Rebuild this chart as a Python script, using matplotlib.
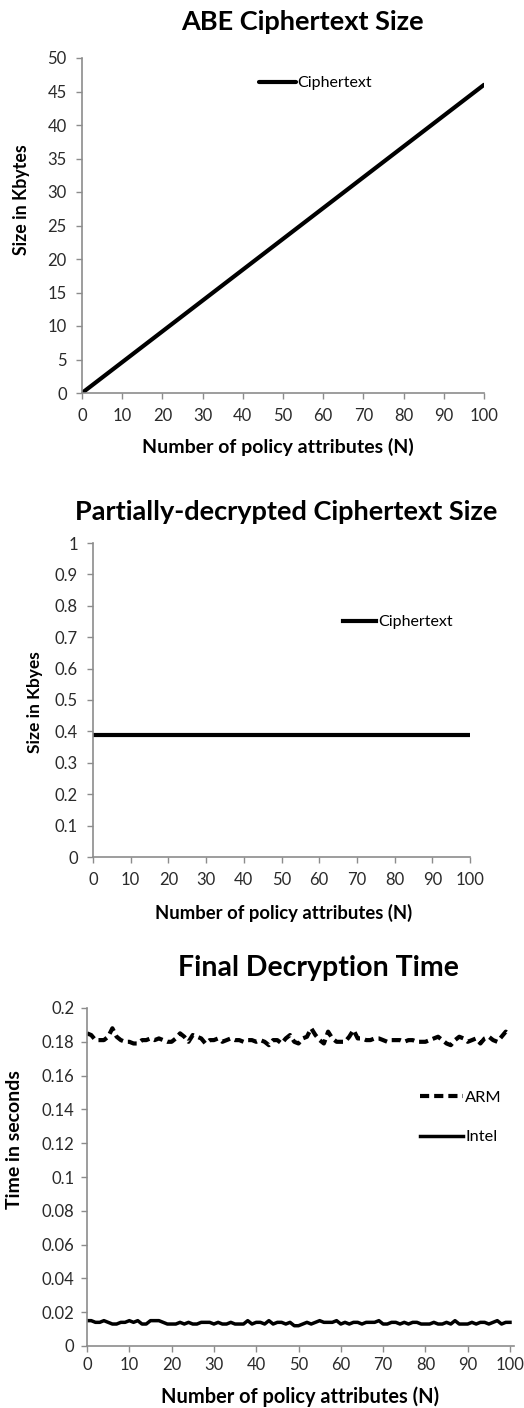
import numpy as np
import matplotlib
matplotlib.use("Agg")
import matplotlib.pyplot as plt

plt.rcParams['font.family'] = ['Lato', 'DejaVu Sans']

# chart 1: ABE ciphertext size
n1 = [0, 100]
size1 = [0, 46]

# chart 2: partially-decrypted ciphertext size
n2 = [0, 100]
size2 = [0.39, 0.39]

# chart 3: final decryption time
n3 = list(range(101))
arm = [0.185, 0.184, 0.181, 0.181, 0.181, 0.183, 0.188, 0.183, 0.181, 0.180,
       0.180, 0.179, 0.179, 0.181, 0.181, 0.182, 0.181, 0.182, 0.181, 0.180,
       0.180, 0.182, 0.185, 0.183, 0.180, 0.184, 0.183, 0.182, 0.179, 0.181,
       0.181, 0.182, 0.180, 0.181, 0.182, 0.181, 0.181, 0.180, 0.181, 0.181,
       0.180, 0.181, 0.180, 0.178, 0.181, 0.181, 0.179, 0.182, 0.184, 0.180,
       0.179, 0.182, 0.183, 0.188, 0.184, 0.181, 0.179, 0.186, 0.182, 0.180,
       0.180, 0.180, 0.183, 0.187, 0.182, 0.182, 0.181, 0.181, 0.182, 0.182,
       0.181, 0.180, 0.181, 0.181, 0.181, 0.180, 0.181, 0.181, 0.180, 0.180,
       0.180, 0.181, 0.182, 0.183, 0.181, 0.179, 0.178, 0.181, 0.183, 0.182,
       0.180, 0.181, 0.182, 0.179, 0.182, 0.183, 0.181, 0.180, 0.183, 0.186,
       0.184]
intel = [0.015, 0.015, 0.014, 0.014, 0.015, 0.014, 0.013, 0.013, 0.014, 0.014,
         0.015, 0.014, 0.015, 0.013, 0.013, 0.015, 0.015, 0.015, 0.014, 0.013,
         0.013, 0.013, 0.014, 0.013, 0.014, 0.013, 0.013, 0.014, 0.014, 0.014,
         0.013, 0.014, 0.013, 0.013, 0.014, 0.013, 0.013, 0.013, 0.015, 0.013,
         0.014, 0.014, 0.013, 0.015, 0.013, 0.014, 0.014, 0.013, 0.014, 0.012,
         0.012, 0.013, 0.014, 0.013, 0.014, 0.015, 0.014, 0.014, 0.014, 0.015,
         0.013, 0.014, 0.013, 0.014, 0.014, 0.013, 0.014, 0.014, 0.014, 0.015,
         0.013, 0.013, 0.014, 0.014, 0.013, 0.014, 0.013, 0.014, 0.014, 0.013,
         0.013, 0.013, 0.014, 0.013, 0.013, 0.014, 0.013, 0.015, 0.013, 0.013,
         0.013, 0.014, 0.013, 0.014, 0.014, 0.013, 0.014, 0.015, 0.013, 0.014,
         0.014]

W, H = 524, 1408
fig = plt.figure(figsize=(W / 100, H / 100), dpi=100)

def box(x0, x1, ytop, ybot):
    return [x0 / W, (H - ybot) / H, (x1 - x0) / W, (ybot - ytop) / H]

def style(ax, size):
    for s in ['top', 'right']:
        ax.spines[s].set_visible(False)
    for s in ['left', 'bottom']:
        ax.spines[s].set_color('#8c8c8c')
        ax.spines[s].set_linewidth(1.2)
    ax.tick_params(direction='out', length=4, width=1, color='#8c8c8c',
                   labelsize=size, labelcolor='#2a2a2a')
    ax.tick_params(axis='x', pad=7)
    ax.tick_params(axis='y', pad=7)

def ftext(x, y, s, **kw):
    fig.text(x / W, 1 - y / H, s, ha='center', va='center', **kw)

# ---- chart 1
ax1 = fig.add_axes(box(82, 484, 58, 393))
ax1.plot(n1, size1, color='black', lw=3, label='Ciphertext', solid_capstyle='round')
ax1.set_xlim(0, 100)
ax1.set_ylim(0, 50)
ax1.set_xticks(range(0, 101, 10))
ax1.set_yticks(range(0, 51, 5))
style(ax1, 12)
ax1.legend(loc='center left', bbox_to_anchor=(0.44, 0.925), frameon=False,
           fontsize=11.5, handlelength=2.3, handletextpad=0.1,
           borderpad=0, borderaxespad=0)
ftext(302, 22, 'ABE Ciphertext Size', fontsize=19.5, fontweight='bold')
ftext(278, 447, 'Number of policy attributes (N)', fontsize=14, fontweight='bold')
ftext(22, 200, 'Size in Kbytes', fontsize=12.8, fontweight='bold', rotation=90)

# ---- chart 2
ax2 = fig.add_axes(box(93, 470, 543, 857))
ax2.plot(n2, size2, color='black', lw=3, label='Ciphertext')
ax2.set_xlim(0, 100)
ax2.set_ylim(0, 1)
ax2.set_xticks(range(0, 101, 10))
ax2.set_yticks(np.arange(0, 1.01, 0.1))
ax2.set_yticklabels(['0', '0.1', '0.2', '0.3', '0.4', '0.5', '0.6', '0.7', '0.8', '0.9', '1'])
style(ax2, 12)
ax2.legend(loc='center left', bbox_to_anchor=(0.663, 0.748), frameon=False,
           fontsize=11.5, handlelength=2.1, handletextpad=0.1,
           borderpad=0, borderaxespad=0)
ftext(286, 512, 'Partially-decrypted Ciphertext Size', fontsize=19.5, fontweight='bold')
ftext(284, 913, 'Number of policy attributes (N)', fontsize=13.3, fontweight='bold')
ftext(35, 702, 'Size in Kbyes', fontsize=12.5, fontweight='bold', rotation=90)

# ---- chart 3
ax3 = fig.add_axes(box(87, 87 + 423 * 1.01, 1008, 1346))
ax3.plot(n3, arm, color='black', lw=3, ls=(0, (2.2, 1.2)), label='ARM')
ax3.plot(n3, intel, color='black', lw=2.5, label='Intel')
ax3.set_xlim(0, 101)
ax3.set_ylim(0, 0.2)
ax3.set_xticks(range(0, 101, 10))
ax3.set_yticks(np.arange(0, 0.201, 0.02))
ax3.set_yticklabels(['0', '0.02', '0.04', '0.06', '0.08', '0.1', '0.12', '0.14',
                     '0.16', '0.18', '0.2'])
style(ax3, 12)
ax3.tick_params(axis='y', pad=5)
ax3.tick_params(axis='x', pad=4)
ax3.legend(loc='center left', bbox_to_anchor=(0.78, 0.676), frameon=False,
           fontsize=11.8, handlelength=2.6, handletextpad=0.15, labelspacing=1.5,
           borderpad=0, borderaxespad=0)
ftext(318, 968, 'Final Decryption Time', fontsize=20.5, fontweight='bold')
ftext(300, 1397, 'Number of policy attributes (N)', fontsize=14.4, fontweight='bold')
ftext(15, 1140, 'Time in seconds', fontsize=14, fontweight='bold', rotation=90)

fig.savefig('out.png', dpi=100)
